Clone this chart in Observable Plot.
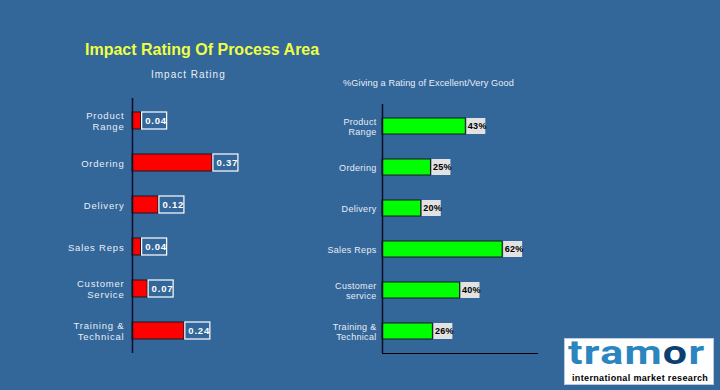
<!DOCTYPE html>
<html>
<head>
<meta charset="utf-8">
<script src="https://cdn.jsdelivr.net/npm/d3@7"></script>
<script src="https://cdn.jsdelivr.net/npm/@observablehq/plot@0.6"></script>
<style>
  html, body { margin: 0; padding: 0; }
  body { width: 720px; height: 390px; background: #336699; position: relative; overflow: hidden;
         font-family: "Liberation Sans", Arial, sans-serif; }
  .layer { position: absolute; left: 0; top: 0; width: 720px; height: 390px; }
  #left text { letter-spacing: 0.8px; }
  #right text { letter-spacing: 0.3px; }
  .title { position: absolute; left: 85px; top: 41px; color: #eeff44; font-weight: bold; font-size: 16px; white-space: nowrap; }
  .sub1 { position: absolute; left: 151px; top: 69px; color: #e8eef6; font-size: 10px; letter-spacing: 1px; white-space: nowrap; }
  .sub2 { position: absolute; left: 343px; top: 78px; color: #e8eef6; font-size: 9.2px; white-space: nowrap; letter-spacing: 0.1px; }
  .logo { position: absolute; left: 564px; top: 338px; width: 150px; height: 47px; background: #ffffff; border: 1px solid #b8cce0; box-sizing: border-box; }
  .logo .big { position: absolute; left: 3px; top: -6px; line-height: normal; font-family: Roboto, "DejaVu Sans", sans-serif; font-weight: bold; font-size: 33px; color: #2b86c0; letter-spacing: 1px; white-space: nowrap; transform: scaleX(1.3); transform-origin: 0 0; }
  .logo .big .o { color: #0c3f73; }
  .logo .small { position: absolute; left: 7px; top: 34px; line-height: normal; font-weight: bold; font-size: 9px; color: #000; white-space: nowrap; letter-spacing: 0.35px; }
</style>
</head>
<body>
<div class="title">Impact Rating Of Process Area</div>
<div class="sub1">Impact Rating</div>
<div class="sub2">%Giving a Rating of Excellent/Very Good</div>
<div id="left" class="layer"></div>
<div id="right" class="layer"></div>
<div class="logo"><div class="big">tram<span class="o">o</span>r</div><div class="small">international market research</div></div>
<script>
const leftCategories = ["Product\nRange", "Ordering", "Delivery", "Sales Reps", "Customer\nService", "Training &\nTechnical"];
const impactValues = [0.04, 0.37, 0.12, 0.04, 0.07, 0.24];
const impactLabels = ["0.04", "0.37", "0.12", "0.04", "0.07", "0.24"];

const rightCategories = ["Product\nRange", "Ordering", "Delivery", "Sales Reps", "Customer\nservice", "Training &\nTechnical"];
const excellentValues = [43, 25, 20, 62, 40, 26];
const excellentLabels = ["43%", "25%", "20%", "62%", "40%", "26%"];

const leftData = leftCategories.map((c, i) => ({cat: c, value: impactValues[i], label: impactLabels[i]}));
const rightData = rightCategories.map((c, i) => ({cat: c, value: excellentValues[i], label: excellentLabels[i]}));

const svgStyle = "background: transparent; font-family: 'Liberation Sans', Arial, sans-serif; overflow: visible;";

const left = Plot.plot({
  width: 720, height: 390,
  marginLeft: 132, marginRight: 480, marginTop: 98, marginBottom: 37,
  style: svgStyle,
  x: {domain: [0, 0.5], axis: null},
  y: {domain: leftCategories, axis: null, paddingInner: 0.6, paddingOuter: 0.3},
  marks: [
    Plot.barX(leftData, {x: "value", y: "cat", fill: "#ff0000", stroke: "#1a1a1a", strokeWidth: 1}),
    Plot.barX(leftData, {x1: "value", x2: "value", y: "cat", fill: "none", stroke: "#ffffff", strokeWidth: 1.2, insetLeft: 1, insetRight: -26}),
    Plot.text(leftData, {x: "value", y: "cat", text: "label", textAnchor: "start", dx: 4, fill: "#ffffff", fontWeight: "bold", fontSize: 9.5}),
    Plot.text(leftData, {y: "cat", text: "cat", frameAnchor: "left", textAnchor: "end", dx: -8, fill: "#e8eef6", fontSize: 9.5, lineHeight: 1.15}),
    Plot.ruleX([0], {stroke: "#0d0d2b", strokeWidth: 1.5})
  ]
});
document.getElementById("left").append(left);

const right = Plot.plot({
  width: 720, height: 390,
  marginLeft: 382, marginRight: 183, marginTop: 104, marginBottom: 37,
  style: svgStyle,
  x: {domain: [0, 80], axis: "bottom", ticks: [], tickSize: 0, line: true, label: null, color: "#0d0d2b"},
  y: {domain: rightCategories, axis: null, paddingInner: 0.6, paddingOuter: 0.3},
  marks: [
    Plot.barX(rightData, {x: "value", y: "cat", fill: "#00ff00", stroke: "#1a1a1a", strokeWidth: 1}),
    Plot.barX(rightData, {x1: "value", x2: "value", y: "cat", fill: "#e2e2e2", insetLeft: 1, insetRight: -20}),
    Plot.text(rightData, {x: "value", y: "cat", text: "label", textAnchor: "start", dx: 2, fill: "#000000", fontWeight: "bold", fontSize: 9}),
    Plot.text(rightData, {y: "cat", text: "cat", frameAnchor: "left", textAnchor: "end", dx: -6, fill: "#e8eef6", fontSize: 9, lineHeight: 1.2}),
    Plot.ruleX([0], {stroke: "#0d0d2b", strokeWidth: 1.5})
  ]
});
document.getElementById("right").append(right);
</script>
</body>
</html>
